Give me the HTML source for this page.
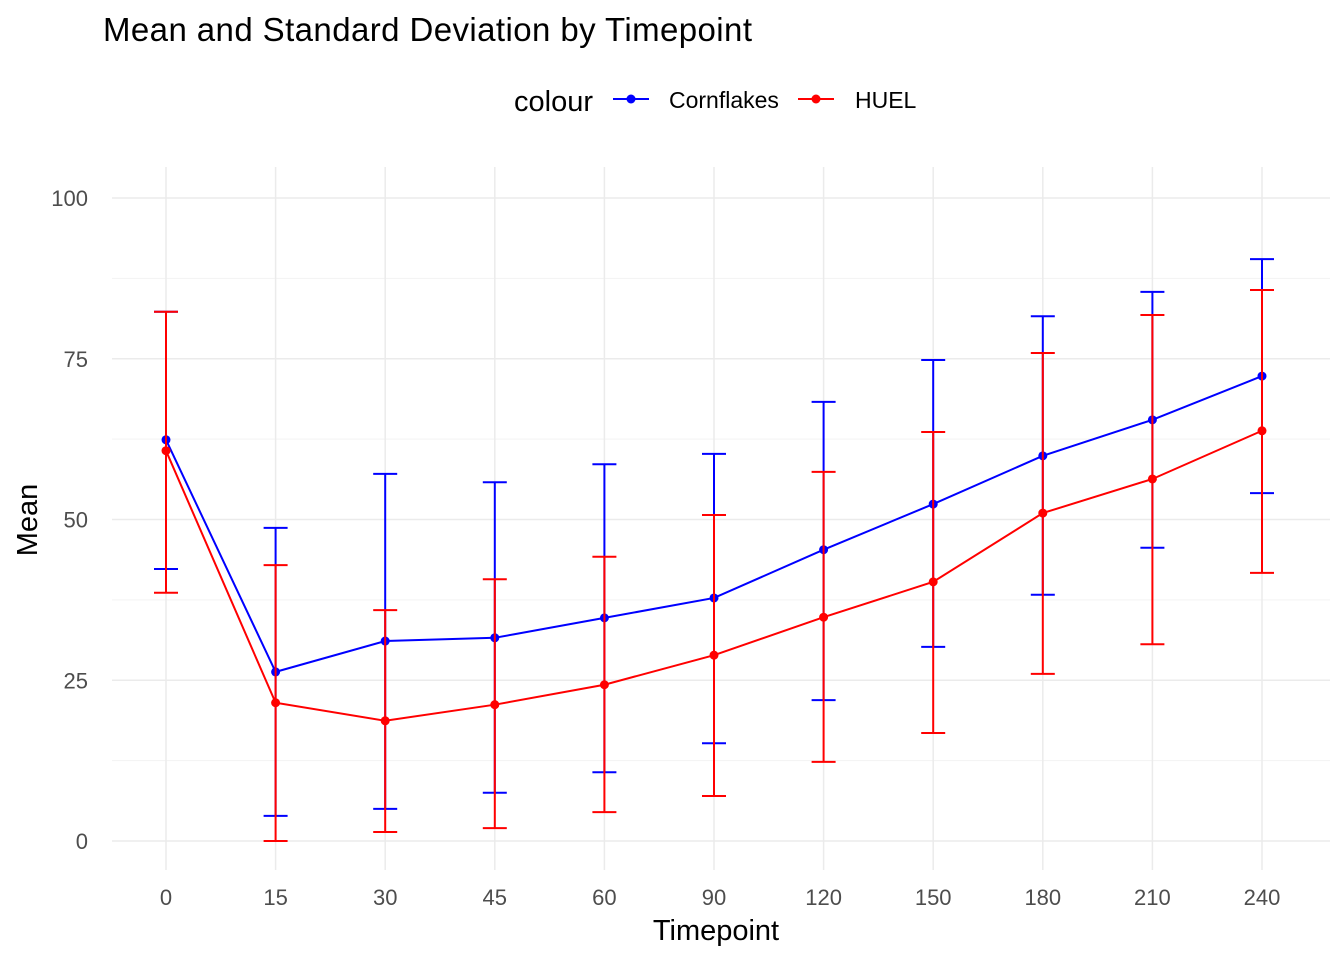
<!DOCTYPE html>
<html><head><meta charset="utf-8"><style>
body{margin:0;background:#fff;}
svg{font-family:"Liberation Sans",Arial,sans-serif;}
</style></head><body>
<svg id="chart" width="1344" height="960" xmlns="http://www.w3.org/2000/svg">
<rect width="1344" height="960" fill="#fff"/>
<text x="103" y="41" font-size="33" textLength="649" fill="#000">Mean and Standard Deviation by Timepoint</text>
<g>
<text x="514" y="111" font-size="29" fill="#000">colour</text>
<g>
<line x1="613" y1="99" x2="649" y2="99" stroke="#0000ff" stroke-width="2"/><circle cx="631" cy="99" r="4.5" fill="#0000ff"/>
<text x="669" y="108" font-size="23" fill="#000">Cornflakes</text></g>
<g>
<line x1="798" y1="99" x2="834" y2="99" stroke="#ff0000" stroke-width="2"/><circle cx="816" cy="99" r="4.5" fill="#ff0000"/>
<text x="855" y="108" font-size="23" fill="#000">HUEL</text></g>
</g>
<g id="grid"></g>
<g id="axes"></g>
<g id="marks"></g>
<text x="716" y="940" font-size="29" text-anchor="middle" fill="#000">Timepoint</text>
<text transform="translate(37,520) rotate(-90)" font-size="29" text-anchor="middle" fill="#000">Mean</text>
</svg>
<script>
const categories = ["0","15","30","45","60","90","120","150","180","210","240"];
const cornMean = [62.4,26.3,31.1,31.6,34.7,37.8,45.3,52.4,59.9,65.5,72.3];
const cornUpper = [82.3,48.7,57.1,55.8,58.6,60.2,68.3,74.8,81.6,85.4,90.5];
const cornLower = [42.3,3.9,5.0,7.5,10.7,15.2,21.9,30.2,38.3,45.6,54.1];
const huelMean = [60.7,21.5,18.7,21.2,24.3,28.9,34.8,40.3,51.0,56.3,63.8];
const huelUpper = [82.3,42.9,35.9,40.7,44.2,50.7,57.4,63.6,75.9,81.8,85.7];
const huelLower = [38.6,0.0,1.4,2.0,4.5,7.0,12.3,16.8,26.0,30.6,41.7];
const yTicks = [0,25,50,75,100];

const NS="http://www.w3.org/2000/svg";
const xScale = i => 166 + i*(1262-166)/(categories.length-1);
const yScale = v => 841 - v*(841-198)/100;
function mk(tag, attrs, parent){const e=document.createElementNS(NS,tag);for(const k in attrs)e.setAttribute(k,attrs[k]);parent.appendChild(e);return e;}
const grid=document.getElementById('grid'), axes=document.getElementById('axes'), marks=document.getElementById('marks');
for(let i=0;i<yTicks.length-1;i++){const v=(yTicks[i]+yTicks[i+1])/2;const l=mk('line',{x1:112,x2:1330,y1:yScale(v),y2:yScale(v),stroke:'#f3f3f3','stroke-width':1},grid);

}
yTicks.forEach(v=>{const l=mk('line',{x1:112,x2:1330,y1:yScale(v),y2:yScale(v),stroke:'#ebebeb','stroke-width':1.5},grid);


const t=mk('text',{x:88,y:yScale(v)+8,'font-size':22,'text-anchor':'end',fill:'#4d4d4d'},axes);t.textContent=v;

});
categories.forEach((c,i)=>{const l=mk('line',{x1:xScale(i),x2:xScale(i),y1:167,y2:870,stroke:'#ebebeb','stroke-width':1.5},grid);


const t=mk('text',{x:xScale(i),y:905,'font-size':22,'text-anchor':'middle',fill:'#4d4d4d'},axes);t.textContent=c;

});
function series(name,mean,up,lo,color){
 const g=mk('g',{},marks);
 
 
 mean.forEach((m,i)=>{const x=xScale(i);
  const e=mk('path',{d:`M${x-12},${yScale(up[i])}H${x+12}M${x},${yScale(up[i])}V${yScale(lo[i])}M${x-12},${yScale(lo[i])}H${x+12}`,stroke:color,'stroke-width':2,fill:'none'},g);
  
  });
 const p=mk('polyline',{points:mean.map((m,i)=>xScale(i)+','+yScale(m)).join(' '),stroke:color,'stroke-width':2,fill:'none'},g);
 
 
 mean.forEach((m,i)=>{const c=mk('circle',{cx:xScale(i),cy:yScale(m),r:4.5,fill:color},g);
  
  });
}
series('cornflakes',cornMean,cornUpper,cornLower,'#0000ff');
series('huel',huelMean,huelUpper,huelLower,'#ff0000');
</script>
</body></html>
